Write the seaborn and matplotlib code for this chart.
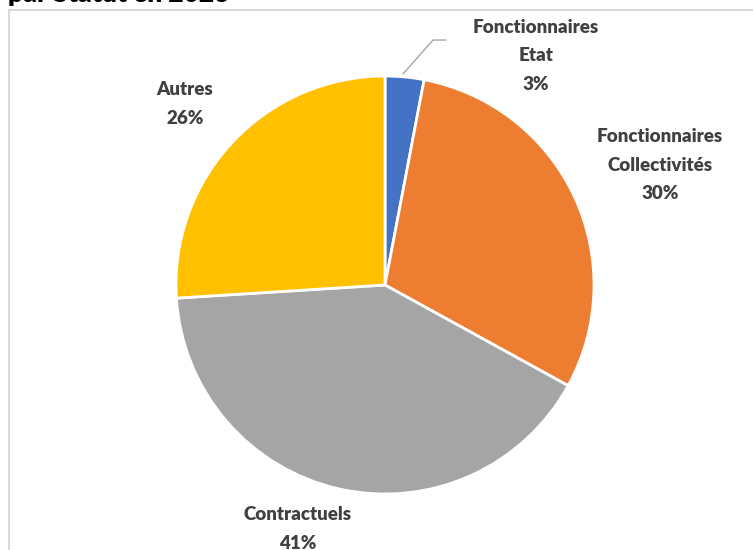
import matplotlib
matplotlib.use("Agg")
import matplotlib.pyplot as plt
import seaborn as sns
from matplotlib.patches import Rectangle

# data
categories = ["Fonctionnaires\nEtat", "Fonctionnaires\nCollectivités", "Contractuels", "Autres"]
shares = [3, 30, 41, 26]
colors = ["#4472C4", "#ED7D31", "#A5A5A5", "#FFC000"]
# label centres, in pie radius units (layout only)
label_pos = [(0.722, 1.096), (1.316, 0.574), (-0.416, -1.167), (-0.957, 0.866)]
title = "par Statut en 2023"

sns.set_theme(style="white")
plt.rcParams["font.family"] = ["Lato", "DejaVu Sans"]

fig = plt.figure(figsize=(7.53, 5.50), dpi=100)

# chart frame (cut by the image edges, as in the source)
fig.patches.append(Rectangle((9 / 753, -0.1), 1.2, 1 - 10 / 550 + 0.1,
                             transform=fig.transFigure, fill=False,
                             edgecolor="#D9D9D9", lw=1.5, clip_on=False))
fig.text(8 / 753, 1 - 2 / 550, title, fontsize=19, fontweight="heavy",
         color="black", ha="left", va="baseline")

ax = fig.add_axes([176 / 753, 56 / 550, 418 / 753, 418 / 550])
wedges, _ = ax.pie(shares, colors=colors, startangle=90, counterclock=False,
                   radius=1.0, wedgeprops=dict(edgecolor="white", linewidth=2))
ax.set_xlim(-1, 1)
ax.set_ylim(-1, 1)
ax.set_aspect("equal")
ax.axis("off")

for (x, y), cat, v in zip(label_pos, categories, shares):
    ax.text(x, y, f"{cat}\n{v}%", ha="center", va="center", fontsize=13.5,
            fontweight="heavy", color="#404040", linespacing=1.82, clip_on=False)

# leader line for the small slice
ax.plot([0.086, 0.23, 0.292], [1.01, 1.172, 1.172], color="#A6A6A6", lw=1, clip_on=False)

fig.savefig("out.png", dpi=100)
